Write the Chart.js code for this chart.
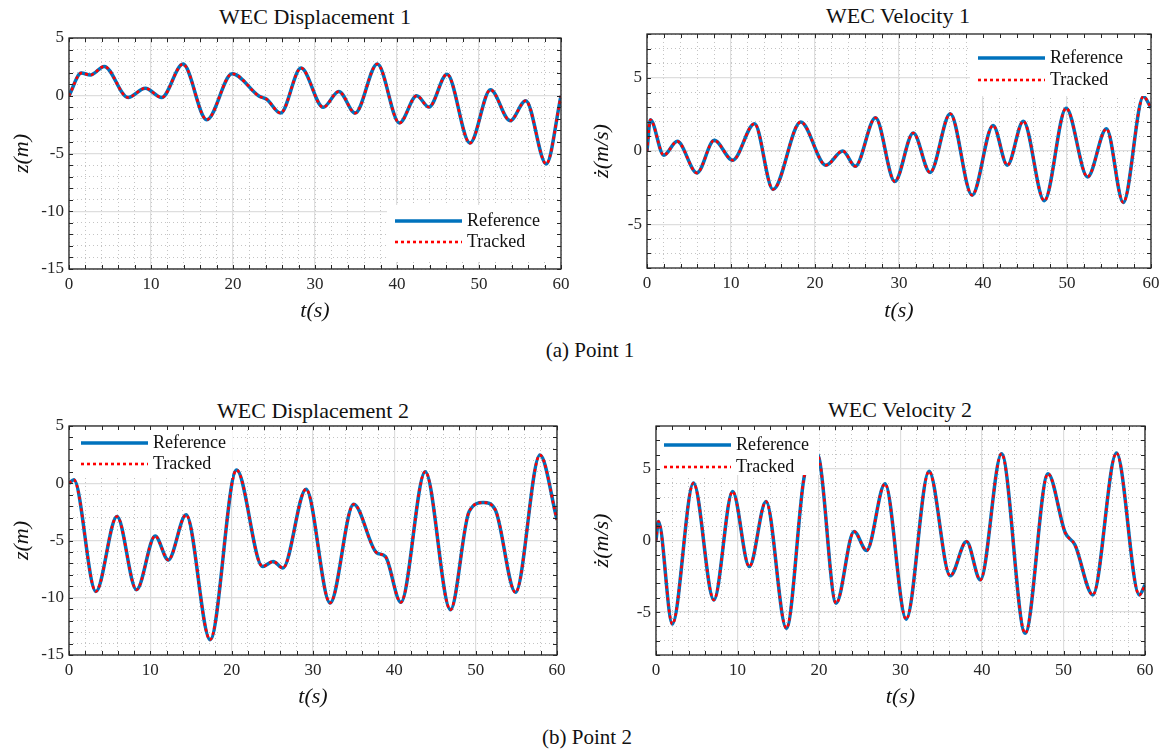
<!DOCTYPE html>
<html>
<head>
<meta charset="utf-8">
<script src="https://cdn.jsdelivr.net/npm/chart.js@4.4.1/dist/chart.umd.min.js"></script>
<style>
  body { margin: 0; background: #fff; }
  #page { position: relative; width: 1169px; height: 750px; font-family: 'Liberation Serif', 'DejaVu Serif', serif; color: #111; }
  .lbl { position: absolute; white-space: nowrap; transform: translate(-50%, -50%); }
  .ttl { font-size: 22px; }
  .cap { font-size: 21px; }
  canvas { position: absolute; }
</style>
</head>
<body>
<div id="page">
  <div class="lbl ttl" style="left:315px;top:17px">WEC Displacement 1</div>
  <div class="lbl ttl" style="left:898px;top:16px">WEC Velocity 1</div>
  <div class="lbl cap" style="left:590px;top:350px">(a) Point 1</div>
  <div class="lbl ttl" style="left:313px;top:411px">WEC Displacement 2</div>
  <div class="lbl ttl" style="left:900px;top:410px">WEC Velocity 2</div>
  <div class="lbl cap" style="left:587px;top:737px">(b) Point 2</div>
  <canvas id="c1" width="575" height="300" style="left:0;top:30px"></canvas>
  <canvas id="c2" width="585" height="304" style="left:580px;top:26px"></canvas>
  <canvas id="c3" width="575" height="298" style="left:0;top:418px"></canvas>
  <canvas id="c4" width="585" height="298" style="left:580px;top:418px"></canvas>
</div>
<script>
// values (local extrema and shoulders), time in s
const t1 = [0, 1.5, 2.6, 4.3, 7.2, 9.3, 11.3, 13.9, 16.8, 19.9, 23.2, 24.1, 25.8, 28.3, 31.0, 32.9, 34.9, 37.6, 40.3, 42.4, 43.9, 46.1, 48.9, 51.4, 53.8, 55.7, 58.2, 60];
const z1 = [0, 1.96, 1.8, 2.54, -0.15, 0.66, -0.15, 2.74, -2.08, 1.9, -0.05, -0.3, -1.5, 2.4, -1.0, 0.37, -1.5, 2.74, -2.36, 0.0, -0.98, 1.87, -4.1, 0.52, -2.16, -0.43, -5.9, 0];

const t2 = [0, 0.4, 2.0, 3.6, 5.95, 8.0, 10.2, 12.8, 15.0, 18.3, 21.3, 23.3, 24.8, 27.2, 29.5, 31.7, 33.7, 36.1, 38.7, 41.2, 42.9, 44.8, 47.3, 49.9, 52.45, 54.7, 56.7, 59.1, 60];
const v1 = [0, 2.14, -0.29, 0.66, -1.5, 0.73, -0.63, 1.87, -2.63, 1.98, -0.97, 0.0, -1.04, 2.27, -2.08, 1.23, -1.47, 2.55, -3.02, 1.75, -0.97, 2.04, -3.4, 2.93, -1.77, 1.52, -3.52, 3.73, 2.95];

const t3 = [0, 0.6, 3.3, 5.9, 8.3, 10.6, 12.2, 14.4, 17.35, 20.6, 23.8, 25.1, 26.3, 29.15, 32.1, 35.0, 37.8, 38.9, 40.8, 43.8, 46.9, 49.2, 50.95, 52.4, 54.9, 57.9, 60];
const z2 = [0, 0.3, -9.45, -2.9, -9.3, -4.6, -6.7, -2.76, -13.66, 1.16, -7.27, -6.83, -7.4, -0.52, -10.46, -1.83, -6.05, -6.4, -10.4, 1.01, -11.05, -2.47, -1.69, -2.3, -9.53, 2.47, -3.2];

const t4 = [0, 0.3, 2.0, 4.6, 7.1, 9.4, 11.45, 13.5, 16.0, 18.1, 19.0, 20.0, 22.1, 24.3, 25.85, 28.1, 30.7, 33.5, 36.1, 38.1, 39.8, 42.4, 45.3, 48.1, 50.2, 51.4, 53.6, 56.5, 59.3, 60];
const v2 = [0, 1.33, -5.83, 4.01, -4.15, 3.43, -1.82, 2.73, -6.13, 4.15, 6.4, 5.76, -4.38, 0.63, -0.7, 3.96, -5.5, 4.83, -2.47, -0.07, -2.75, 6.06, -6.48, 4.66, 0.56, -0.3, -3.8, 6.11, -3.8, -3.1];

// tracked signal lies on top of the reference everywhere
const seriesNames = ['Reference', 'Tracked'];
const xTicks = [0, 10, 20, 30, 40, 50, 60];

const FONT = "'Liberation Serif', 'DejaVu Serif', serif";
const INK = '#262626';

const pts = (t, y) => t.map((x, i) => ({ x: x, y: y[i] }));

// white legend box inside the axes, like MATLAB's
const boxLegend = {
  id: 'boxLegend',
  afterDatasetsDraw(chart, args, o) {
    const a = chart.chartArea, ctx = chart.ctx;
    const x = o.right ? a.right - o.w : a.left;
    const y = a.top + o.top;
    ctx.save();
    ctx.fillStyle = '#fff';
    ctx.fillRect(x, y, o.w, o.h);
    const ds = chart.data.datasets;
    [ds[0], ds[1]].forEach((d, i) => {
      const ly = y + o.ly + i * o.dy;
      ctx.beginPath();
      ctx.strokeStyle = d.borderColor;
      ctx.lineWidth = d.borderWidth;
      ctx.setLineDash(d.borderDash || []);
      ctx.moveTo(x + o.lx, ly);
      ctx.lineTo(x + o.lx + 67, ly);
      ctx.stroke();
      ctx.setLineDash([]);
      ctx.fillStyle = '#111';
      ctx.font = '18px ' + FONT;
      ctx.textBaseline = 'middle';
      ctx.fillText(d.label, x + o.lx + 72, ly);
    });
    ctx.restore();
  }
};

// axes box with inward ticks on all four sides
const frame = {
  id: 'frame',
  afterDraw(chart) {
    const a = chart.chartArea, ctx = chart.ctx;
    ctx.save();
    ctx.strokeStyle = INK;
    ctx.lineWidth = 1;
    ctx.beginPath();
    chart.scales.x2.ticks.forEach(tk => {
      const p = Math.round(chart.scales.x2.getPixelForValue(tk.value)) + 0.5;
      ctx.moveTo(p, a.bottom); ctx.lineTo(p, a.bottom - 4);
      ctx.moveTo(p, a.top); ctx.lineTo(p, a.top + 4);
    });
    chart.scales.y2.ticks.forEach(tk => {
      const p = Math.round(chart.scales.y2.getPixelForValue(tk.value)) + 0.5;
      ctx.moveTo(a.left, p); ctx.lineTo(a.left + 4, p);
      ctx.moveTo(a.right, p); ctx.lineTo(a.right - 4, p);
    });
    ctx.stroke();
    ctx.lineWidth = 1.3;
    ctx.strokeRect(a.left, a.top, a.right - a.left, a.bottom - a.top);
    ctx.restore();
  }
};

function panel(id, t, y, opt) {
  return new Chart(document.getElementById(id), {
    type: 'line',
    data: {
      datasets: [
        { label: seriesNames[0], data: pts(t, y), borderColor: '#0072BD', borderWidth: 3.5, order: 1 },
        { label: seriesNames[1], data: pts(t, y), borderColor: '#FF0000', borderWidth: 2.6, borderDash: [3, 3], order: 0 }
      ]
    },
    options: {
      responsive: false,
      animation: false,
      devicePixelRatio: 1,
      layout: { padding: { top: 8, right: opt.padR, left: 0, bottom: 0 } },
      elements: { point: { radius: 0 }, line: { cubicInterpolationMode: 'monotone' } },
      plugins: {
        legend: { display: false },
        tooltip: { enabled: false },
        boxLegend: opt.legend
      },
      scales: {
        x2: {
          type: 'linear', position: 'bottom', min: 0, max: 60,
          ticks: { display: false, stepSize: 2 },
          grid: { color: '#c4c4c4', lineWidth: 1, drawTicks: false },
          border: { display: false, dash: [1, 3] },
          afterFit: s => { s.height = 0; s.paddingLeft = 0; s.paddingRight = 0; }
        },
        y2: {
          type: 'linear', position: 'left', min: opt.yMin, max: opt.yMax,
          ticks: { display: false, stepSize: 1 },
          grid: { color: '#c4c4c4', lineWidth: 1, drawTicks: false },
          border: { display: false, dash: [1, 3] },
          afterFit: s => { s.width = 0; s.paddingTop = 0; s.paddingBottom = 0; }
        },
        x: {
          type: 'linear', position: 'bottom', min: 0, max: 60,
          afterBuildTicks: s => { s.ticks = xTicks.map(v => ({ value: v })); },
          ticks: { color: INK, font: { family: FONT, size: 17 }, padding: 5, maxRotation: 0 },
          grid: { color: '#dedede', lineWidth: 1.2, drawTicks: false },
          border: { display: false },
          title: { display: true, text: 't(s)', color: '#111', font: { family: FONT, size: 22, style: 'italic' }, padding: { top: 0, bottom: 6 } },
          afterFit: s => { s.height = opt.hX; s.paddingLeft = 0; s.paddingRight = 0; }
        },
        y: {
          type: 'linear', position: 'left', min: opt.yMin, max: opt.yMax,
          afterBuildTicks: s => { s.ticks = opt.yTicks.map(v => ({ value: v })); },
          ticks: { color: INK, font: { family: FONT, size: 17 }, padding: 5 },
          grid: { color: '#dedede', lineWidth: 1.2, drawTicks: false },
          border: { display: false },
          title: { display: true, text: opt.yTitle, color: '#111', font: { family: FONT, size: 22, style: 'italic' }, padding: { top: 9, bottom: 0 } },
          afterFit: s => { s.width = opt.wY; s.paddingTop = 0; s.paddingBottom = 0; }
        }
      }
    },
    plugins: [boxLegend, frame]
  });
}

panel('c1', t1, z1, {
  yMin: -15, yMax: 5, yTicks: [-15, -10, -5, 0, 5], yTitle: 'z(m)', wY: 69, hX: 61, padR: 14,
  legend: { right: true, top: 167, w: 174, h: 57, ly: 16, dy: 21, lx: 8 }
});
panel('c2', t2, v1, {
  yMin: -8, yMax: 8, yTicks: [-5, 0, 5], yTitle: 'ż(m/s)', wY: 67, hX: 62, padR: 14,
  legend: { right: true, top: 0, w: 181, h: 62, ly: 24, dy: 22, lx: 8 }
});
panel('c3', t3, z2, {
  yMin: -15, yMax: 5, yTicks: [-15, -10, -5, 0, 5], yTitle: 'z(m)', wY: 69, hX: 61, padR: 18,
  legend: { right: false, top: 0, w: 163, h: 52, ly: 17, dy: 21, lx: 12 }
});
panel('c4', t4, v2, {
  yMin: -8, yMax: 8, yTicks: [-5, 0, 5], yTitle: 'ż(m/s)', wY: 76, hX: 61, padR: 20,
  legend: { right: false, top: 0, w: 163, h: 49, ly: 19, dy: 22, lx: 8 }
});
</script>
</body>
</html>
